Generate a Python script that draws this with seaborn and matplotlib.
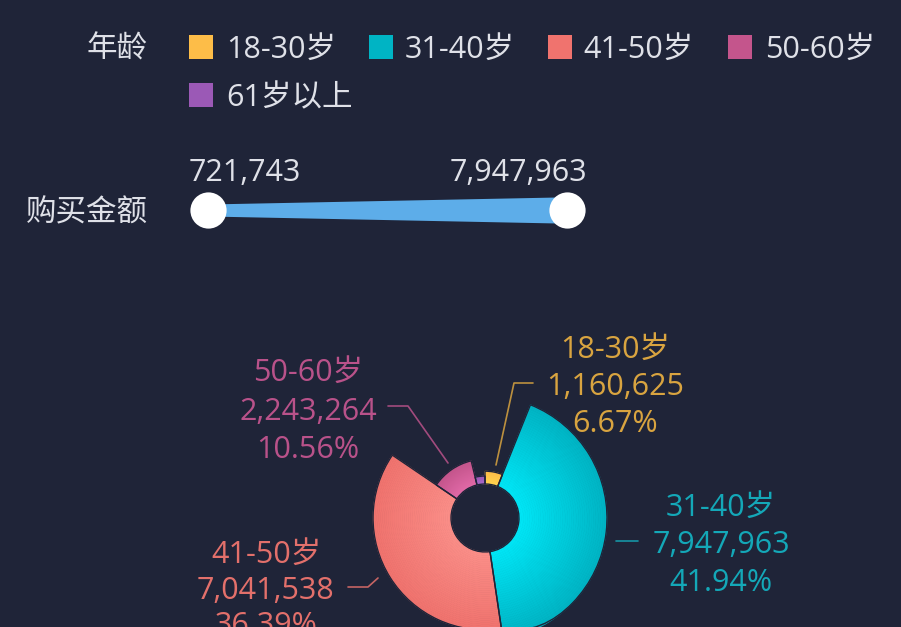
import numpy as np
import matplotlib
matplotlib.use('Agg')
import matplotlib.pyplot as plt
import seaborn as sns
from matplotlib.colors import to_rgb
from matplotlib.lines import Line2D
from matplotlib.patches import Rectangle

# data
ages = ['18-30岁', '31-40岁', '41-50岁', '50-60岁', '61岁以上']
amounts = [1160625, 7947963, 7041538, 2243264, 721743]
pct_labels = ['6.67%', '41.94%', '36.39%', '10.56%', '']
legend_title = '年龄'
range_title = '购买金额'

# colours
bg = '#1f2438'
colors = ['#fdbd48', '#00b4c4', '#f0736e', '#c4558c', '#9b59b6']
inner_colors = ['#ffd64e', '#00e6f6', '#fb8e88', '#e26aa8', '#ab6ccb']
label_colors = ['#d9a440', '#14a8b8', '#e3706b', '#b9528a', '#9b59b6']
text_color = '#dfe1e8'

sns.set_theme(style='dark')
plt.rcParams['font.family'] = ['Open Sans', 'Noto Sans CJK SC', 'DejaVu Sans']

W, H = 901, 627
fig = plt.figure(figsize=(W / 100, H / 100), dpi=100, facecolor=bg)

def fx(x):
    return x / W

def fy(y):
    return 1 - y / H

def ty(y):
    # text baseline sits a little high with va=center, nudge down
    return fy(y + 3)

fs = 22

# ---- legend (manual, echarts-like) ----
fig.text(fx(148), ty(47), legend_title, ha='right', va='center', fontsize=fs, color=text_color)
sq_x = [189, 369, 548, 728, 189]
tx_x = [226, 405, 583, 765, 226]
row_y = [47, 47, 47, 47, 95]
for i, name in enumerate(ages):
    fig.add_artist(Rectangle((fx(sq_x[i]), fy(row_y[i] + 12)), 24 / W, 24 / H,
                             transform=fig.transFigure, color=colors[i], lw=0))
    fig.text(fx(tx_x[i]), ty(row_y[i]), name, ha='left', va='center', fontsize=fs, color=text_color)

# ---- visual map slider ----
fig.text(fx(148), ty(210), range_title, ha='right', va='center', fontsize=fs, color=text_color)
vmin, vmax = min(amounts), max(amounts)
ax2 = fig.add_axes([fx(208), fy(240), (567 - 208) / W, 60 / H])
ax2.set_xlim(vmin, vmax)
ax2.set_ylim(0, 1)
ax2.set_axis_off()
ax2.fill_between([vmin, vmax], [0.5 - 0.1, 0.5 - 0.22], [0.5 + 0.1, 0.5 + 0.22],
                 color='#5dade9', lw=0)
ax2.scatter([vmin, vmax], [0.5, 0.5], s=680, color='white', zorder=3, clip_on=False, lw=0)
fig.text(fx(189), ty(170), f'{vmin:,}', ha='left', va='center', fontsize=fs, color=text_color)
fig.text(fx(587), ty(170), f'{vmax:,}', ha='right', va='center', fontsize=fs, color=text_color)

# ---- rose pie (polar bars) ----
cx, cy, half = 485, 518, 130
ax = fig.add_axes([fx(cx - half), fy(cy + half), 2 * half / W, 2 * half / H], projection='polar')
ax.set_theta_zero_location('N')
ax.set_theta_direction(-1)
ax.set_axis_off()

vals = np.array(amounts, dtype=float)
widths = 2 * np.pi * vals / vals.sum()
starts = np.cumsum(widths) - widths
hole = 0.386 * vals.max()
ax.set_ylim(0, (hole + vals.max()) * half / 122)

n = 40
for k in range(n):
    t = k / (n - 1)
    cols = [tuple((1 - t) * np.array(to_rgb(a)) + t * np.array(to_rgb(b)))
            for a, b in zip(inner_colors, colors)]
    ax.bar(starts, vals / n, width=widths, bottom=hole + vals * k / n, align='edge',
           color=cols, edgecolor=cols, lw=0.6)
ax.bar(starts, vals, width=widths, bottom=hole, align='edge',
       facecolor='none', edgecolor=bg, lw=1.0)

# ---- labels ----
label_x = [615, 721, 266, 308]
label_y = [[347, 384, 421], [505, 542, 580], [552, 588, 623], [370, 409, 447]]
for i in range(4):
    lines = [ages[i], f'{amounts[i]:,}', pct_labels[i]]
    for j, s in enumerate(lines):
        fig.text(fx(label_x[i]), ty(label_y[i][j]), s, ha='center', va='center',
                 fontsize=fs, color=label_colors[i])

leaders = [
    [(496, 465), (514, 383), (533, 383)],
    [(616, 541), (638, 541)],
    [(378, 578), (368, 587), (348, 587)],
    [(448, 463), (408, 406), (388, 406)],
]
for i, pts in enumerate(leaders):
    xs = [fx(p[0]) for p in pts]
    ys = [fy(p[1]) for p in pts]
    fig.add_artist(Line2D(xs, ys, transform=fig.transFigure, color=label_colors[i], lw=1.2, alpha=0.85))

plt.savefig('out.png', dpi=100, facecolor=bg)
plt.close(fig)
